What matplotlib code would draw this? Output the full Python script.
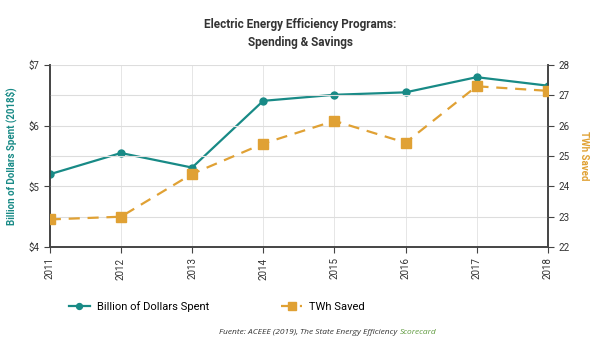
import matplotlib
matplotlib.use("Agg")
import matplotlib.pyplot as plt

plt.rcParams['font.family'] = ['Roboto', 'DejaVu Sans']

years = [2011, 2012, 2013, 2014, 2015, 2016, 2017, 2018]
spent = [5.20, 5.55, 5.31, 6.41, 6.51, 6.55, 6.80, 6.66]
saved = [22.91, 23.00, 24.41, 25.41, 26.16, 25.44, 27.30, 27.15]
left_ticks = [4, 5, 6, 7]
left_labels = ['$4', '$5', '$6', '$7']
right_ticks = [22, 23, 24, 25, 26, 27, 28]

teal = '#188a86'
orange = '#e0a134'
axis_col = '#444444'

fig = plt.figure(figsize=(6, 3.46), dpi=100)
ax = fig.add_axes([0.083, 0.286, 0.83, 0.526])
ax2 = ax.twinx()

# grid on the right axis (one line per TWh) plus vertical per year
for y in right_ticks:
    ax2.axhline(y, color='#dddddd', lw=0.8, zorder=0)
for x in years:
    ax.axvline(x, color='#e6e6e6', lw=0.7, zorder=0)

ax.plot(years, spent, color=teal, lw=1.6, marker='o', ms=5, zorder=3,
        label='Billion of Dollars Spent')
ax2.plot(years, saved, color=orange, lw=1.6, ls=(0, (5, 3.5)), marker='s', ms=6.5, zorder=3,
         label='TWh Saved')

ax.set_xlim(2011, 2018)
ax.set_ylim(4, 7)
ax2.set_ylim(22, 28)
ax.set_xticks(years)
ax.set_xticklabels([str(y) for y in years], rotation=90, fontsize=7, color='#333333')
ax.set_yticks(left_ticks)
ax.set_yticklabels(left_labels, fontsize=7, color='#333333')
ax2.set_yticks(right_ticks)
ax2.tick_params(axis='y', labelsize=7, labelcolor='#333333', length=4, color=axis_col)
ax.tick_params(axis='both', length=4, color=axis_col)

for a in (ax, ax2):
    a.spines['top'].set_visible(False)
    for s in ('left', 'right', 'bottom'):
        a.spines[s].set_color(axis_col)
        a.spines[s].set_linewidth(1.2)

ax.set_ylabel('Billion of Dollars Spent (2018$)', color=teal, fontsize=7,
              fontweight='bold', labelpad=8)
ax2.set_ylabel('TWh Saved', color=orange, fontsize=7, fontweight='bold',
               rotation=270, labelpad=14)

fig.text(0.5, 0.928, 'Electric Energy Efficiency Programs:', ha='center', va='center',
         fontsize=8.5, fontweight='bold', color='#333333')
fig.text(0.5, 0.877, 'Spending & Savings', ha='center', va='center',
         fontsize=8.5, fontweight='bold', color='#333333')

h1, l1 = ax.get_legend_handles_labels()
h2, l2 = ax2.get_legend_handles_labels()
fig.legend(h1 + h2, l1 + l2, loc='center left', bbox_to_anchor=(0.098, 0.115),
           ncol=2, frameon=False, fontsize=8, columnspacing=6.5, handlelength=1.9,
           handletextpad=0.6, markerscale=0.85)

fig.text(0.5, 0.04, 'Fuente: ACEEE (2019), ', ha='right', va='center', fontsize=6,
         style='italic', color='#333333', family=['Open Sans', 'DejaVu Sans'])
fig.text(0.5, 0.04, 'The State Energy Efficiency ', ha='left', va='center', fontsize=6,
         style='italic', color='#333333', family=['Open Sans', 'DejaVu Sans'])
t = fig.text(0.5, 0.04, '', fontsize=6)
fig.canvas.draw()
r = fig.canvas.get_renderer()
txts = fig.texts
bb = txts[-2].get_window_extent(r)
t.set_position((bb.x1 / fig.bbox.width, 0.04))
t.set_text('Scorecard')
t.set_color('#5f9a3e')
t.set_style('italic')
t.set_va('center')
t.set_family(['Open Sans', 'DejaVu Sans'])

fig.savefig('out.png', dpi=100)
